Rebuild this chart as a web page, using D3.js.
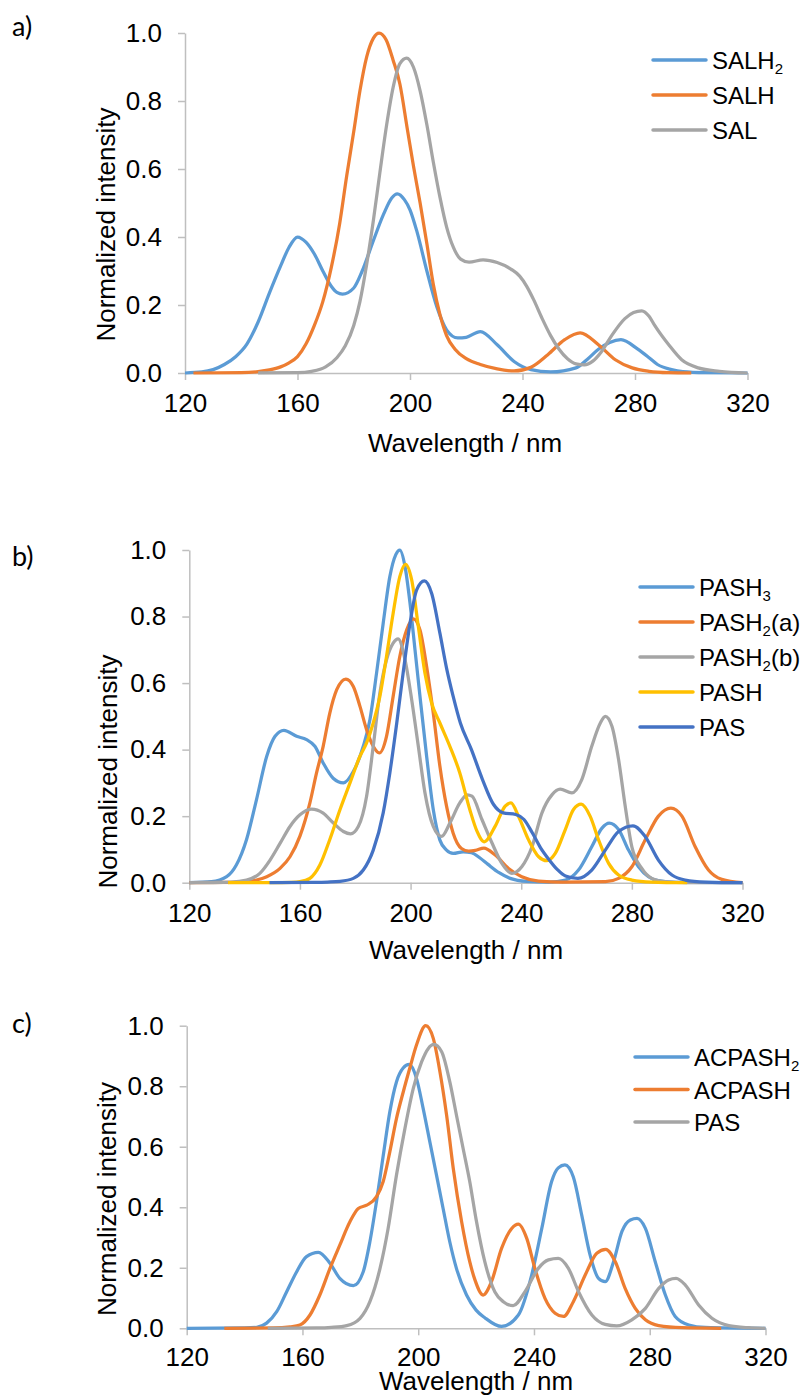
<!DOCTYPE html>
<html>
<head>
<meta charset="utf-8">
<script src="https://cdn.jsdelivr.net/npm/d3@7"></script>
<style>
  body { margin: 0; background: #fff; }
  svg { display: block; }
</style>
</head>
<body>
<svg id="chart" width="805" height="1395"></svg>
<script>
// axis ticks shared by all three panels
var wavelengthTicks = [120, 160, 200, 240, 280, 320];
var intensityTicks = [0, 0.2, 0.4, 0.6, 0.8, 1.0];

// panel a) [wavelength nm, normalized intensity]
var namesA = ['SALH_2', 'SALH', 'SAL'];
var salh2 = [[120,0],[126,0.003],[130,0.01],[134,0.025],[138,0.048],[142,0.085],[146,0.15],[150,0.235],[154,0.315],[157,0.37],[160,0.40],[163,0.385],[166,0.35],[169,0.30],[172,0.255],[174,0.237],[176,0.232],[180,0.25],[183,0.30],[187,0.39],[190.5,0.465],[193.5,0.515],[195.5,0.527],[198,0.51],[200,0.48],[202.5,0.415],[206,0.30],[209.5,0.196],[213,0.127],[217,0.103],[220,0.105],[225,0.122],[231,0.083],[237,0.034],[243,0.01],[250,0.003],[259,0.015],[263,0.04],[267,0.07],[271,0.09],[275,0.098],[281,0.07],[285,0.045],[288,0.025],[293,0.01],[297,0.004],[305,0.001],[320,0]];
var salh = [[123,0],[140,0.001],[146,0.004],[150,0.009],[154,0.018],[157,0.03],[160,0.048],[163,0.085],[166,0.14],[169,0.21],[172,0.31],[175,0.44],[177.5,0.58],[180,0.71],[182.2,0.83],[184.6,0.93],[187,0.985],[189,1.0],[191.5,0.98],[194,0.92],[196.4,0.85],[199,0.72],[201.2,0.61],[203.6,0.50],[206,0.38],[208.3,0.26],[210.7,0.17],[213,0.11],[216,0.07],[220,0.042],[225,0.025],[231,0.012],[237,0.006],[243,0.017],[249,0.054],[255,0.098],[260.5,0.118],[267,0.083],[273,0.039],[279,0.015],[285,0.005],[292,0.001],[300,0]];
var sal = [[146,0],[160,0.001],[165,0.005],[170,0.018],[174,0.045],[177,0.08],[180,0.14],[182.2,0.21],[184.6,0.32],[187,0.45],[189.3,0.59],[191.7,0.73],[194,0.84],[196.4,0.91],[198.8,0.926],[201.2,0.90],[203.6,0.83],[206,0.73],[208.3,0.62],[210.7,0.515],[213,0.43],[215.4,0.37],[218,0.335],[221,0.326],[226,0.333],[231,0.325],[236,0.305],[239,0.285],[241.5,0.255],[244,0.215],[247,0.16],[250,0.11],[253,0.07],[256,0.042],[259,0.027],[262,0.024],[265,0.035],[268,0.062],[271.7,0.11],[276.4,0.16],[279.5,0.178],[282.4,0.183],[285,0.167],[287,0.14],[292,0.083],[296.6,0.039],[302.5,0.015],[310,0.005],[320,0]];

// panel b)
var namesB = ['PASH_3', 'PASH_2(a)', 'PASH_2(b)', 'PASH', 'PAS'];
var pash3 = [[120,0],[128,0.003],[133.5,0.018],[137,0.053],[140.7,0.13],[144.3,0.25],[148,0.38],[151,0.44],[154.2,0.458],[158.8,0.44],[162.4,0.43],[165.4,0.41],[168.4,0.36],[172,0.314],[175.7,0.30],[179.3,0.334],[182.9,0.41],[185.3,0.49],[187.7,0.63],[190.1,0.78],[192.5,0.92],[194.7,0.987],[196.1,1.0],[198,0.95],[199.8,0.84],[201.6,0.70],[203.4,0.56],[205.8,0.38],[208.2,0.22],[210.6,0.128],[213,0.098],[215.4,0.088],[219,0.093],[222,0.09],[225,0.075],[228,0.055],[232,0.03],[236,0.013],[242,0.004],[250,0.002],[256,0.008],[260.7,0.038],[265.5,0.108],[269.2,0.164],[271.8,0.179],[275.2,0.16],[278.8,0.098],[282.4,0.048],[286,0.018],[289.6,0.006],[296,0.001],[320,0]];
var pash2a = [[120,0],[136,0.001],[140,0.003],[144.3,0.008],[148,0.018],[152.8,0.043],[156.4,0.078],[160,0.14],[163.6,0.24],[166,0.33],[168.4,0.41],[170.8,0.51],[173.3,0.58],[176.6,0.612],[179.3,0.59],[181.7,0.53],[184.1,0.46],[186.5,0.41],[188.7,0.39],[191.3,0.44],[193.7,0.56],[196.1,0.68],[198.6,0.76],[201,0.793],[203.4,0.76],[205.8,0.65],[208.2,0.51],[210.6,0.35],[213,0.23],[215.4,0.149],[218.4,0.103],[221,0.095],[223.4,0.097],[226.5,0.104],[230.6,0.083],[235.4,0.043],[240.2,0.018],[246.3,0.005],[255,0.002],[270.4,0.003],[275.2,0.013],[280,0.048],[284.8,0.128],[289.6,0.2],[294.1,0.224],[298.1,0.2],[302.9,0.108],[307.7,0.038],[312.5,0.01],[320,0]];
var pash2b = [[120,0],[135,0.002],[140.7,0.008],[145.5,0.028],[149.2,0.068],[152.8,0.118],[156.4,0.169],[160,0.204],[164.2,0.221],[168.4,0.209],[172,0.18],[175.7,0.154],[178.3,0.147],[181.1,0.169],[184.1,0.26],[186.5,0.41],[188.9,0.57],[191.3,0.67],[193.7,0.72],[195.5,0.733],[198,0.67],[200.4,0.55],[202.8,0.41],[205.2,0.27],[208.2,0.169],[211.2,0.139],[214.2,0.179],[217.8,0.24],[220.5,0.264],[222.2,0.26],[225.8,0.19],[229.4,0.12],[233,0.058],[236.6,0.028],[240.2,0.048],[243.9,0.108],[247.5,0.21],[251.1,0.264],[254.1,0.281],[258.3,0.27],[261.9,0.31],[265.5,0.41],[268.6,0.48],[270.4,0.50],[272.8,0.47],[275.2,0.37],[277.6,0.23],[280,0.108],[283.6,0.043],[287.2,0.013],[292,0.003],[300,0],[320,0]];
var pash = [[134,0],[150,0],[157,0.001],[160,0.003],[163.6,0.013],[167.2,0.053],[170.8,0.13],[174.5,0.22],[178.1,0.30],[181.7,0.38],[184.1,0.42],[186.5,0.48],[188.9,0.56],[191.3,0.68],[193.7,0.81],[196.1,0.92],[198.2,0.957],[200.4,0.91],[202.8,0.77],[205.2,0.63],[207.6,0.54],[210.6,0.48],[214.2,0.41],[217.8,0.33],[221.4,0.22],[224,0.155],[226.6,0.123],[230.6,0.17],[234.2,0.23],[236.3,0.24],[239,0.2],[242.7,0.128],[246.3,0.078],[249.3,0.066],[252.3,0.088],[255.9,0.159],[258.9,0.22],[261.7,0.236],[264.9,0.2],[268,0.128],[271.6,0.058],[275.2,0.023],[280,0.008],[287.2,0.002],[300,0]];
var pasB = [[149,0],[165,0.001],[170,0.002],[174.5,0.004],[179.3,0.013],[182.9,0.038],[186.5,0.098],[190.1,0.21],[192.5,0.33],[195,0.48],[197.3,0.63],[199.8,0.78],[202.2,0.88],[205,0.907],[207.6,0.87],[210.6,0.75],[213,0.645],[215.4,0.56],[218,0.48],[222,0.40],[226,0.31],[230,0.235],[233.5,0.21],[238,0.205],[241,0.19],[244,0.15],[247,0.105],[250,0.07],[253,0.04],[256,0.02],[260.5,0.013],[265.5,0.038],[270.4,0.098],[275.2,0.154],[280.4,0.171],[284.8,0.139],[289.6,0.068],[294.5,0.023],[299.3,0.008],[306.5,0.002],[320,0]];

// panel c)
var namesC = ['ACPASH_2', 'ACPASH', 'PAS'];
var acpash2 = [[120,0],[140,0.001],[144.2,0.003],[147.6,0.017],[151.1,0.055],[154.5,0.12],[158,0.187],[161.4,0.237],[165.5,0.251],[169.5,0.215],[172.9,0.165],[177.6,0.141],[181,0.187],[183.3,0.286],[185.6,0.42],[187.9,0.57],[190.2,0.716],[192.5,0.815],[194.8,0.86],[196.9,0.872],[199.4,0.826],[201.7,0.727],[204,0.617],[206.3,0.507],[208.6,0.396],[210.9,0.286],[213.2,0.198],[216.7,0.11],[220,0.06],[223,0.035],[228.8,0.006],[234.6,0.044],[239.2,0.176],[242.7,0.33],[246.1,0.485],[248.4,0.53],[250.7,0.54],[253.6,0.5],[256.5,0.374],[259.4,0.242],[262.3,0.165],[264.6,0.154],[267.5,0.22],[270.4,0.32],[273.3,0.358],[275.6,0.363],[278.5,0.33],[281.9,0.22],[285.4,0.11],[288.8,0.039],[293.5,0.011],[299.2,0.003],[320,0]];
var acpash = [[133,0],[150,0.001],[155.7,0.005],[159.1,0.011],[162.6,0.044],[166,0.11],[169.5,0.198],[172.9,0.275],[176.4,0.352],[179.3,0.396],[182.2,0.407],[185.6,0.435],[187.9,0.485],[190.2,0.584],[192.5,0.694],[194.8,0.78],[197.1,0.86],[199.4,0.936],[202.6,1.0],[205.2,0.958],[207.5,0.848],[209.8,0.705],[212.1,0.529],[215,0.352],[217.8,0.22],[219.6,0.16],[222.4,0.11],[225.3,0.154],[228.8,0.264],[232.3,0.33],[234.6,0.344],[237.5,0.297],[240.3,0.198],[243.8,0.099],[247.3,0.05],[250.2,0.039],[253.6,0.088],[257.7,0.176],[261.7,0.248],[264.8,0.261],[268.1,0.22],[271.5,0.132],[275,0.066],[278.5,0.028],[283.1,0.009],[291.2,0.002],[304.7,0]];
var pasC = [[148,0],[165,0.001],[170,0.003],[175.3,0.009],[179.9,0.033],[183.3,0.088],[186.8,0.198],[189.6,0.33],[192.5,0.507],[195.4,0.66],[198.3,0.793],[201.2,0.881],[203.5,0.925],[205.4,0.938],[208.1,0.914],[210.9,0.815],[213.2,0.705],[215.5,0.595],[217.8,0.485],[220,0.36],[223,0.22],[226.5,0.12],[229.4,0.088],[232.8,0.075],[236.9,0.121],[241.5,0.198],[245,0.226],[248.4,0.231],[251.9,0.198],[255.4,0.121],[260,0.044],[264.6,0.013],[268.6,0.008],[273.8,0.028],[278.5,0.066],[283.1,0.132],[286.5,0.16],[289.1,0.165],[292.3,0.143],[296.9,0.077],[301.5,0.033],[307.3,0.009],[314.2,0.002],[320,0]];

// excel office palette
var blue = '#5B9BD5', orange = '#ED7D31', grey = '#A5A5A5', gold = '#FFC000', navy = '#4472C4';
var axisColor = '#BFBFBF';
var textFont = 'Liberation Sans, Arial, sans-serif';

// layout of each panel on the page
var panels = [
  {label: 'a)', labelY: 36, left: 185, right: 747.5, top: 33, bottom: 373, xPad: 14,
   xTitleX: 465, xTitleY: 452, yTitleX: 115, yTitleY: 224.5,
   legendX: 653, legendY: 60, legendStep: 35,
   names: namesA, series: [salh2, salh, sal], colors: [blue, orange, grey]},
  {label: 'b)', labelY: 566, left: 189.3, right: 742.5, top: 550, bottom: 882.7, xPad: 14,
   xTitleX: 466, xTitleY: 959, yTitleX: 117, yTitleY: 771.5,
   legendX: 640, legendY: 587, legendStep: 35,
   names: namesB, series: [pash3, pash2a, pash2b, pash, pasB], colors: [blue, orange, grey, gold, navy]},
  {label: 'c)', labelY: 1033, left: 186.7, right: 765.5, top: 1025.7, bottom: 1328.3, xPad: 12,
   xTitleX: 476, xTitleY: 1390, yTitleX: 116, yTitleY: 1199,
   legendX: 635, legendY: 1057, legendStep: 32.5,
   names: namesC, series: [acpash2, acpash, pasC], colors: [blue, orange, grey]}
];

var svg = d3.select('#chart');

// write a label like PASH_2(a) with a subscript digit
function writeLabel(text, label) {
  var m = label.match(/^(.*?)_(\d)(.*)$/);
  if (!m) {
    text.text(label);
    return;
  }
  text.append('tspan').text(m[1]);
  text.append('tspan').attr('font-size', 15).attr('dy', 5).text(m[2]);
  if (m[3]) text.append('tspan').attr('dy', -5).text(m[3]);
}

function drawPanel(p) {
  var g = svg.append('g');
  var x = d3.scaleLinear().domain([120, 320]).range([p.left, p.right]);
  var y = d3.scaleLinear().domain([0, 1]).range([p.bottom, p.top]);

  // y axis
  var yAxis = g.append('g')
    .attr('transform', 'translate(' + p.left + ',0)')
    .call(d3.axisLeft(y).tickValues(intensityTicks).tickFormat(d3.format('.1f'))
      .tickSize(7).tickSizeOuter(0).tickPadding(16));

  // x axis
  var xAxis = g.append('g')
    .attr('transform', 'translate(0,' + p.bottom + ')')
    .call(d3.axisBottom(x).tickValues(wavelengthTicks).tickFormat(d3.format('d'))
      .tickSize(7).tickSizeOuter(0).tickPadding(p.xPad));

  [yAxis, xAxis].forEach(function(a) {
    a.attr('font-family', textFont).attr('font-size', 26);
    a.selectAll('path, line').attr('stroke', axisColor).attr('stroke-width', 1.5);
    a.selectAll('text').attr('fill', '#000');
  });

  // spectra, later series on top
  var line = d3.line()
    .x(function(d) { return x(d[0]); })
    .y(function(d) { return y(d[1]); })
    .curve(d3.curveMonotoneX);

  p.series.forEach(function(s, i) {
    g.append('path')
      .datum(s)
      .attr('d', line)
      .attr('fill', 'none')
      .attr('stroke', p.colors[i])
      .attr('stroke-width', 3.25)
      .attr('stroke-linejoin', 'round');
  });

  // axis titles
  g.append('text')
    .attr('x', p.xTitleX).attr('y', p.xTitleY)
    .attr('text-anchor', 'middle')
    .attr('font-family', textFont).attr('font-size', 26)
    .text('Wavelength / nm');

  g.append('text')
    .attr('transform', 'translate(' + p.yTitleX + ',' + p.yTitleY + ') rotate(-90)')
    .attr('text-anchor', 'middle')
    .attr('font-family', textFont).attr('font-size', 26)
    .text('Normalized intensity');

  // panel letter
  g.append('text')
    .attr('x', 12).attr('y', p.labelY)
    .attr('font-family', 'Lato, Carlito, sans-serif').attr('font-size', 27)
    .text(p.label);

  // legend
  p.names.forEach(function(name, i) {
    var ly = p.legendY + i * p.legendStep;
    g.append('line')
      .attr('x1', p.legendX).attr('x2', p.legendX + 53)
      .attr('y1', ly).attr('y2', ly)
      .attr('stroke', p.colors[i])
      .attr('stroke-width', 3.5)
      .attr('stroke-linecap', 'round');
    var t = g.append('text')
      .attr('x', p.legendX + 59).attr('y', ly + 9)
      .attr('font-family', textFont).attr('font-size', 24);
    writeLabel(t, name);
  });
}

panels.forEach(drawPanel);
</script>
</body>
</html>
